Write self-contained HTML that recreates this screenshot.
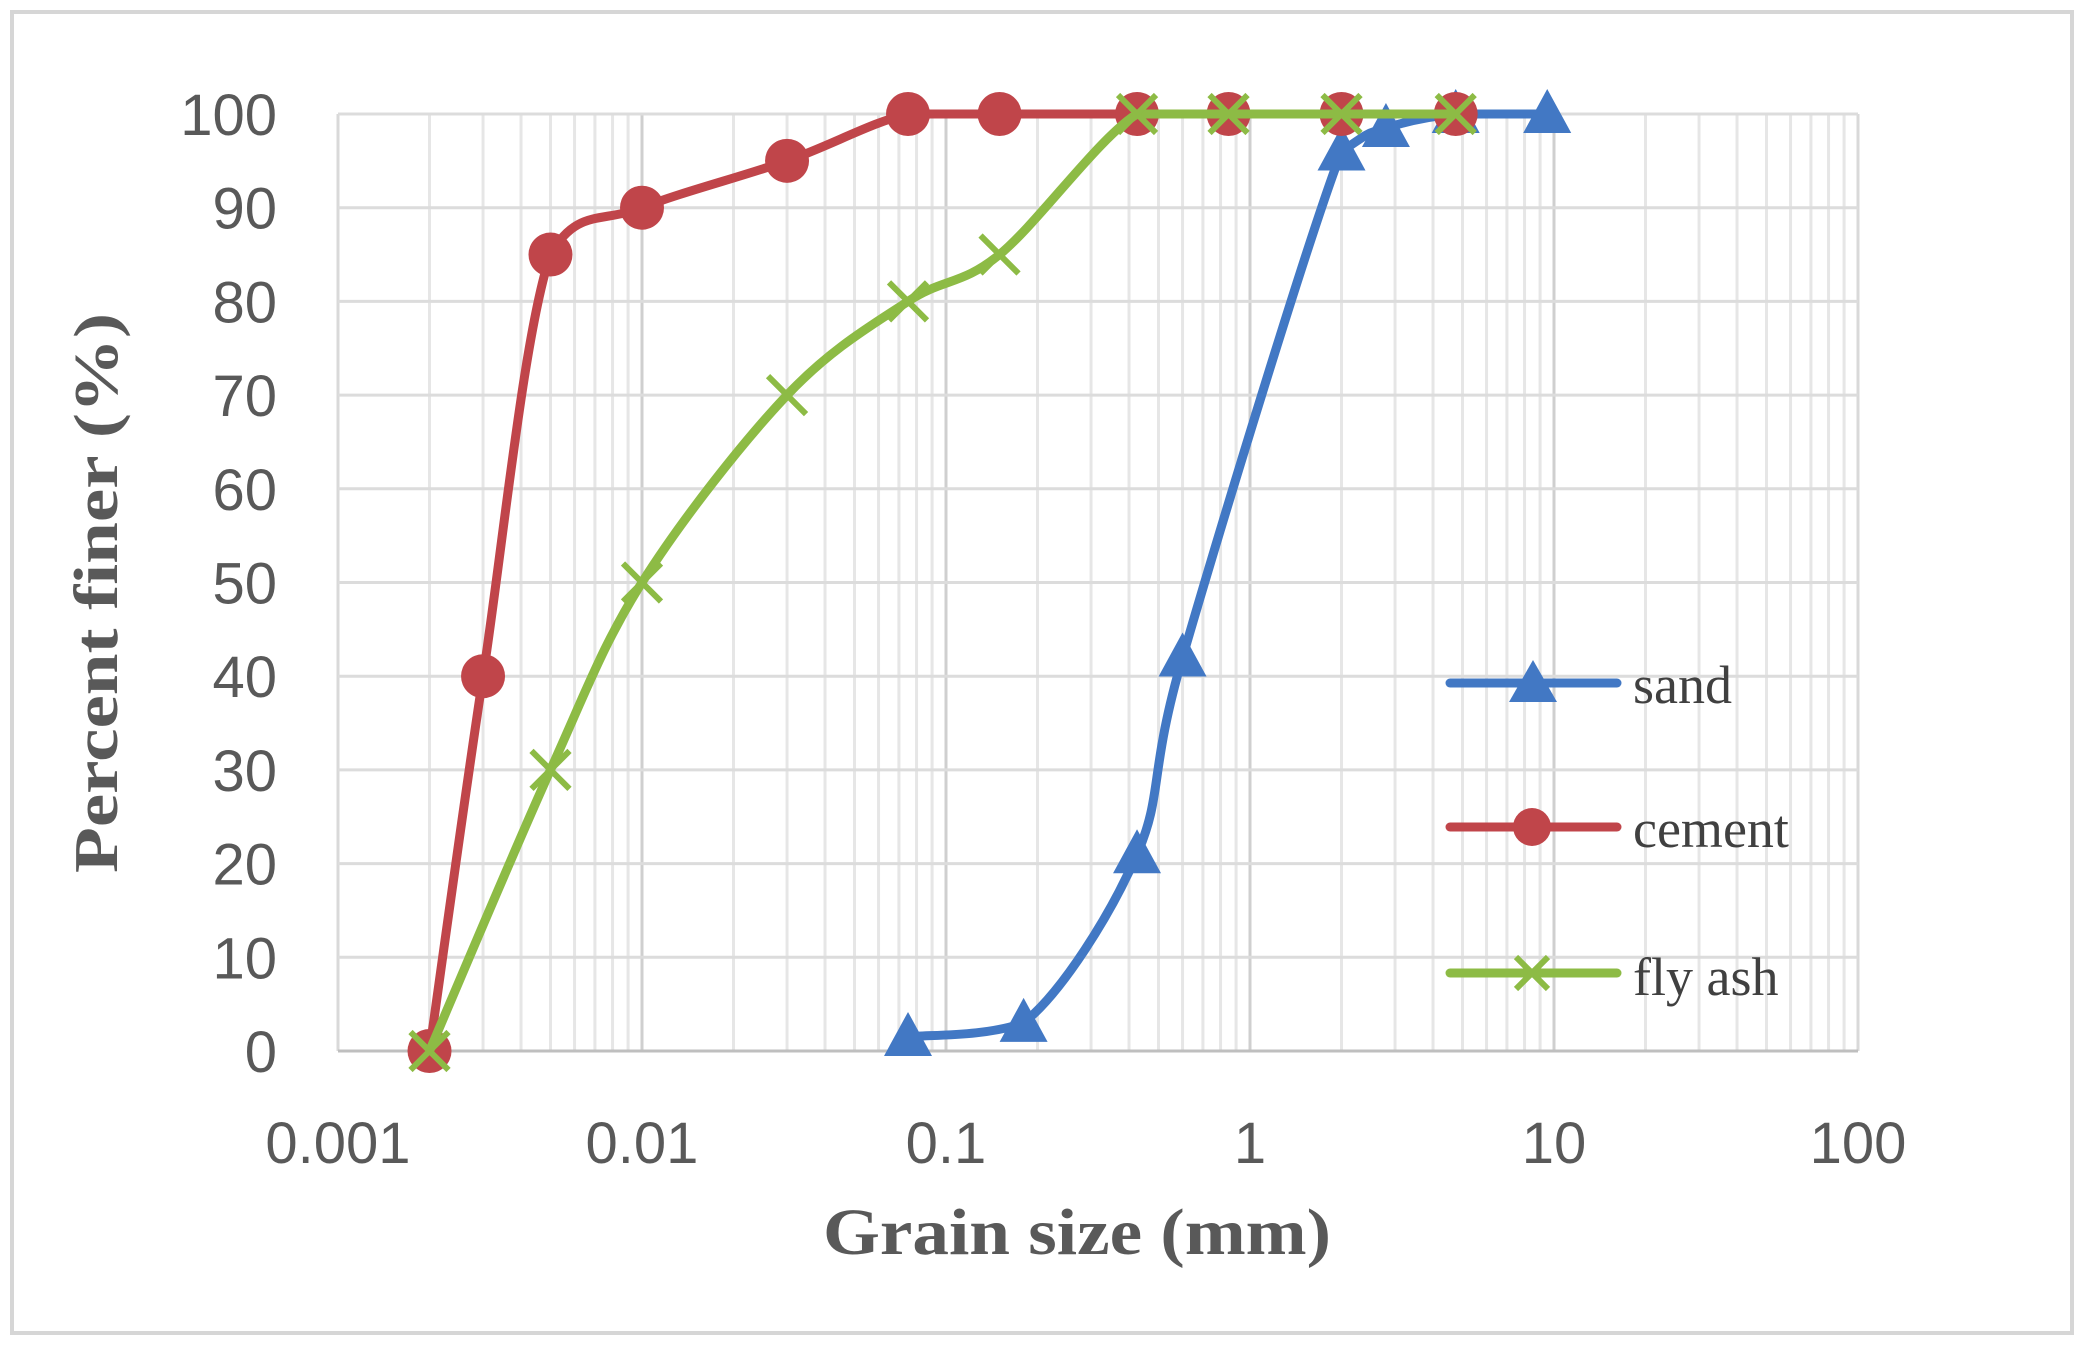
<!DOCTYPE html>
<html><head><meta charset="utf-8">
<style>
html,body{margin:0;padding:0;background:#fff;}
svg{display:block;}
</style></head>
<body>
<svg id="c" width="2085" height="1349" viewBox="0 0 2085 1349" xmlns="http://www.w3.org/2000/svg">
<rect x="0" y="0" width="2085" height="1349" fill="#fff"/>
<rect x="12" y="12" width="2060" height="1321" fill="none" stroke="#d6d6d6" stroke-width="4"/>
<g id="grid"></g>
<g id="series"></g>
<g font-family="Liberation Sans, sans-serif" font-size="58" fill="#595959" id="labels"></g>
<text x="1077" y="1254" font-family="Liberation Serif, serif" font-weight="bold" font-size="66" fill="#595959" text-anchor="middle" textLength="508" lengthAdjust="spacingAndGlyphs">Grain size (mm)</text>
<text transform="translate(117,593) rotate(-90)" x="0" y="0" font-family="Liberation Serif, serif" font-weight="bold" font-size="62" fill="#595959" text-anchor="middle" textLength="560" lengthAdjust="spacingAndGlyphs">Percent finer (%)</text>
<g font-family="Liberation Serif, serif" font-size="54" fill="#404040">
<text x="1633" y="703">sand</text>
<text x="1633" y="847">cement</text>
<text x="1633" y="995">fly ash</text>
</g>
</svg>
<script>
var NS="http://www.w3.org/2000/svg";
var L=338,R=1858,T=114,B=1051,DEC=304;
function X(d){return L+DEC*(Math.log10(d)+3);}
function Y(p){return B-(B-T)/100*p;}
function el(t,a,p){var e=document.createElementNS(NS,t);for(var k in a)e.setAttribute(k,a[k]);p.appendChild(e);return e;}
var g=document.getElementById('grid');
for(var dcd=0;dcd<5;dcd++){for(var m=2;m<=9;m++){var x=L+DEC*(dcd+Math.log10(m));el('line',{x1:x,y1:T,x2:x,y2:B,stroke:'#e6e6e6','stroke-width':3},g);}}
for(var i=0;i<=5;i++){var x=L+DEC*i;el('line',{x1:x,y1:T,x2:x,y2:B,stroke:(i==0||i==5)?'#d9d9d9':'#cfcfcf','stroke-width':3},g);}
for(var p=10;p<=100;p+=10){el('line',{x1:L,y1:Y(p),x2:R,y2:Y(p),stroke:'#dcdcdc','stroke-width':3},g);}
el('line',{x1:L,y1:B,x2:R,y2:B,stroke:'#bfbfbf','stroke-width':3},g);
var lb=document.getElementById('labels');
for(var p=0;p<=100;p+=10){var t=el('text',{x:277,y:Y(p)+21,'text-anchor':'end'},lb);t.textContent=p;}
var xl=['0.001','0.01','0.1','1','10','100'];
for(var i=0;i<6;i++){var t=el('text',{x:L+DEC*i,y:1163,'text-anchor':'middle'},lb);t.textContent=xl[i];}
function cl(v,a,b){var lo=Math.min(a,b),hi=Math.max(a,b);return Math.max(lo,Math.min(hi,v));}
function path(pts){var P=pts.map(function(q){return [X(q[0]),Y(q[1])];});var d='M'+P[0][0]+','+P[0][1];
for(var i=0;i<P.length-1;i++){var p0=P[i-1]||P[i],p1=P[i],p2=P[i+1],p3=P[i+2]||P[i+1];var k=6;
var c1x=p1[0]+(p2[0]-p0[0])/k,c1y=cl(p1[1]+(p2[1]-p0[1])/k,p1[1],p2[1]);
var c2x=p2[0]-(p3[0]-p1[0])/k,c2y=cl(p2[1]-(p3[1]-p1[1])/k,p1[1],p2[1]);
d+=' C'+c1x+','+c1y+' '+c2x+','+c2y+' '+p2[0]+','+p2[1];}return d;}
var s=document.getElementById('series');
var sand=[[0.075,1.5],[0.18,3],[0.425,21],[0.6,42],[2,96],[2.8,98.5],[4.75,100],[9.5,100]];
var cem=[[0.002,0],[0.003,40],[0.005,85],[0.01,90],[0.03,95],[0.075,100],[0.15,100],[0.425,100],[0.85,100],[2,100],[4.75,100]];
var fly=[[0.002,0],[0.005,30],[0.01,50],[0.03,70],[0.075,80],[0.15,85],[0.425,100],[0.85,100],[2,100],[4.75,100]];
var BL='#4278c4',RD='#c0454a',GR='#8dbb45';
el('path',{d:path(sand),fill:'none',stroke:BL,'stroke-width':9,'stroke-linejoin':'round'},s);
sand.forEach(function(q){var x=X(q[0]),y=Y(q[1]);el('polygon',{points:(x-24)+','+(y+19)+' '+(x+24)+','+(y+19)+' '+x+','+(y-25),fill:BL},s);});
el('path',{d:path(cem),fill:'none',stroke:RD,'stroke-width':9,'stroke-linejoin':'round'},s);
cem.forEach(function(q){el('circle',{cx:X(q[0]),cy:Y(q[1]),r:22,fill:RD},s);});
el('path',{d:path(fly),fill:'none',stroke:GR,'stroke-width':9,'stroke-linejoin':'round'},s);
fly.forEach(function(q){var x=X(q[0]),y=Y(q[1]);el('path',{d:'M'+(x-19)+','+(y-19)+' L'+(x+19)+','+(y+19)+' M'+(x-19)+','+(y+19)+' L'+(x+19)+','+(y-19),stroke:GR,'stroke-width':6},s);});
el('line',{x1:1450,y1:683,x2:1617,y2:683,stroke:BL,'stroke-width':9,'stroke-linecap':'round'},s);
el('polygon',{points:'1509,702 1557,702 1533,660',fill:BL},s);
el('line',{x1:1450,y1:827,x2:1617,y2:827,stroke:RD,'stroke-width':9,'stroke-linecap':'round'},s);
el('circle',{cx:1532,cy:827,r:19,fill:RD},s);
el('line',{x1:1450,y1:973,x2:1617,y2:973,stroke:GR,'stroke-width':9,'stroke-linecap':'round'},s);
el('path',{d:'M1516,957 L1548,989 M1516,989 L1548,957',stroke:GR,'stroke-width':6},s);
</script>
</body></html>
